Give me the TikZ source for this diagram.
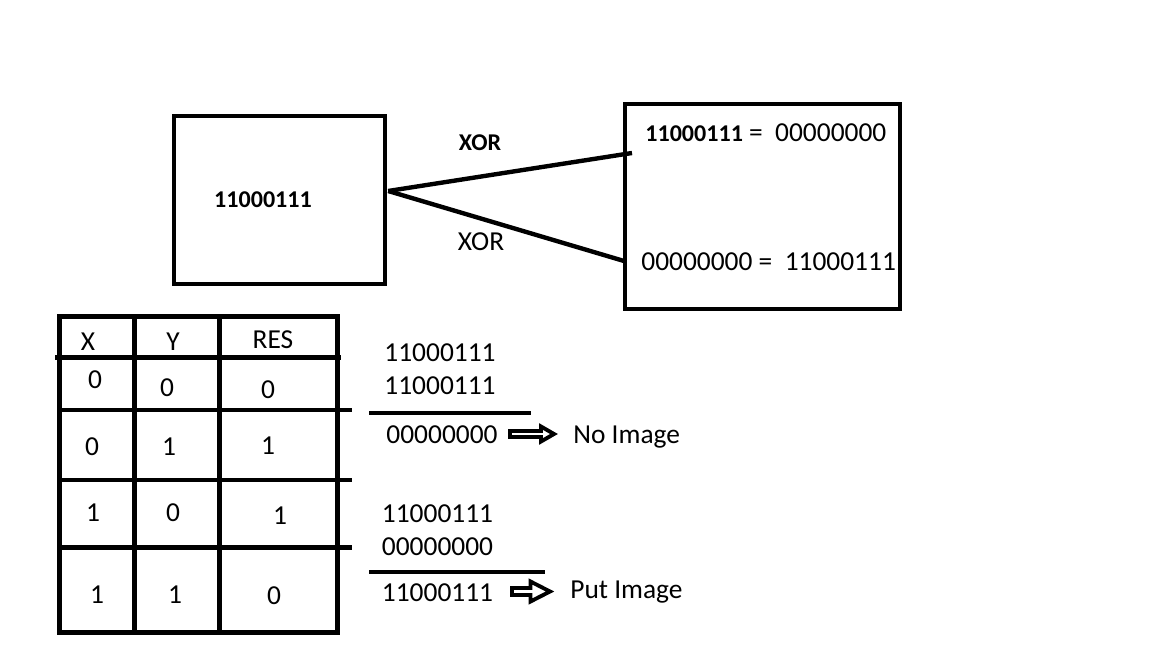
\documentclass[tikz,border=0pt]{standalone}
\usepackage{fontspec}
\setmainfont{Carlito}
\usetikzlibrary{calc,positioning}
\newcommand{\bsmall}{\fontsize{13.7}{16}\selectfont\bfseries}
\tikzset{
  ln/.style={line width=2.5pt,black},
  box/.style={draw,line width=2.5pt,inner sep=0pt},
  txt/.style={font=\fontsize{15.6}{18}\selectfont,inner sep=0pt,text depth=0pt},
  btxt/.style={font=\bsmall,inner sep=0pt,text depth=0pt},
  hollow/.style={draw,line width=2.2pt,line join=miter,fill=white}
}
% hollow block arrow: #1 left end, #2 shaft length, #3 shaft half, #4 head length, #5 head half
\newcommand{\blockarrow}[5]{\draw[hollow] (#1) ++(0,-#3) -- ++(#2,0) -- ++(0,#3-#5) -- ++(#4,#5) -- ++(-#4,#5) -- ++(0,#3-#5) -- ++(-#2,0) -- cycle;}

\begin{document}
\begin{tikzpicture}[x=0.02cm,y=-0.02cm]
\useasboundingbox (0,0) rectangle (1152,648);

% the two boxes
\node[box,minimum width=4.22cm,minimum height=3.36cm] (lbox) at (279.5,200) {};
\node[box,minimum width=5.5cm,minimum height=4.1cm] (rbox) at (762.5,206.5) {};
\node[btxt] (lval) at (263,200) {11000111};
\node[txt,anchor=west] (rtop) at (645,133) {{\bsmall 11000111} =\ \ 00000000};
\node[txt,anchor=west] (rbot) at (641,262) {00000000 =\ \ 11000111};

% XOR connectors
\coordinate (src) at ($(lbox.east)+(1,-9)$);
\coordinate (t1) at (632,153);
\coordinate (t2) at (624,261);
\draw[ln] (src) -- (t1);
\draw[ln] (src) -- (t2);
\node[btxt] (xor1) at (480,143) {XOR};
\node[txt] (xor2) at (481,242) {XOR};

% truth table
\draw[ln] (59.5,316.5) rectangle (337.5,632.5);
\foreach \x in {134.5,219.5}
  \draw[ln] (\x,316.5) -- (\x,632.5);
\draw[ln] (55,357.5) -- (341,357.5);
\foreach \y in {410,480,547.5}
  \draw[ln] (59.5,\y) -- (352,\y);
\foreach \x/\y/\t in {88/342/X,173/342/Y,273/340/RES,
  95/380/0,167/388/0,268/390/0,
  92/447/0,169/447/1,268/446/1,
  93/513/1,173/513/0,280/516/1,
  97/595/1,175/595/1,274/596/0}
  \node[txt] at (\x,\y) {\t};

% worked examples
\node[txt] (a1) at (440,353) {11000111};
\node[txt] (a2) at (440,385.5) {11000111};
\draw[ln,line width=2.3pt] (369,413) -- (531,413);
\node[txt] (a3) at (442,435) {00000000};
\coordinate (p1) at (510,434);
\blockarrow{p1}{31}{3}{13}{7.5}
\node[txt,anchor=west] (noimg) at (573,435) {No Image};

\node[txt] (b1) at (437.5,513.5) {11000111};
\node[txt] (b2) at (437.5,546.5) {00000000};
\draw[ln,line width=2.3pt] (369,572) -- (545,572);
\node[txt] (b3) at (437.5,593) {11000111};
\coordinate (p2) at (512,591.5);
\blockarrow{p2}{18.5}{3.5}{19.5}{10}
\node[txt,anchor=west] (putimg) at (570,590) {Put Image};
\end{tikzpicture}
\end{document}
